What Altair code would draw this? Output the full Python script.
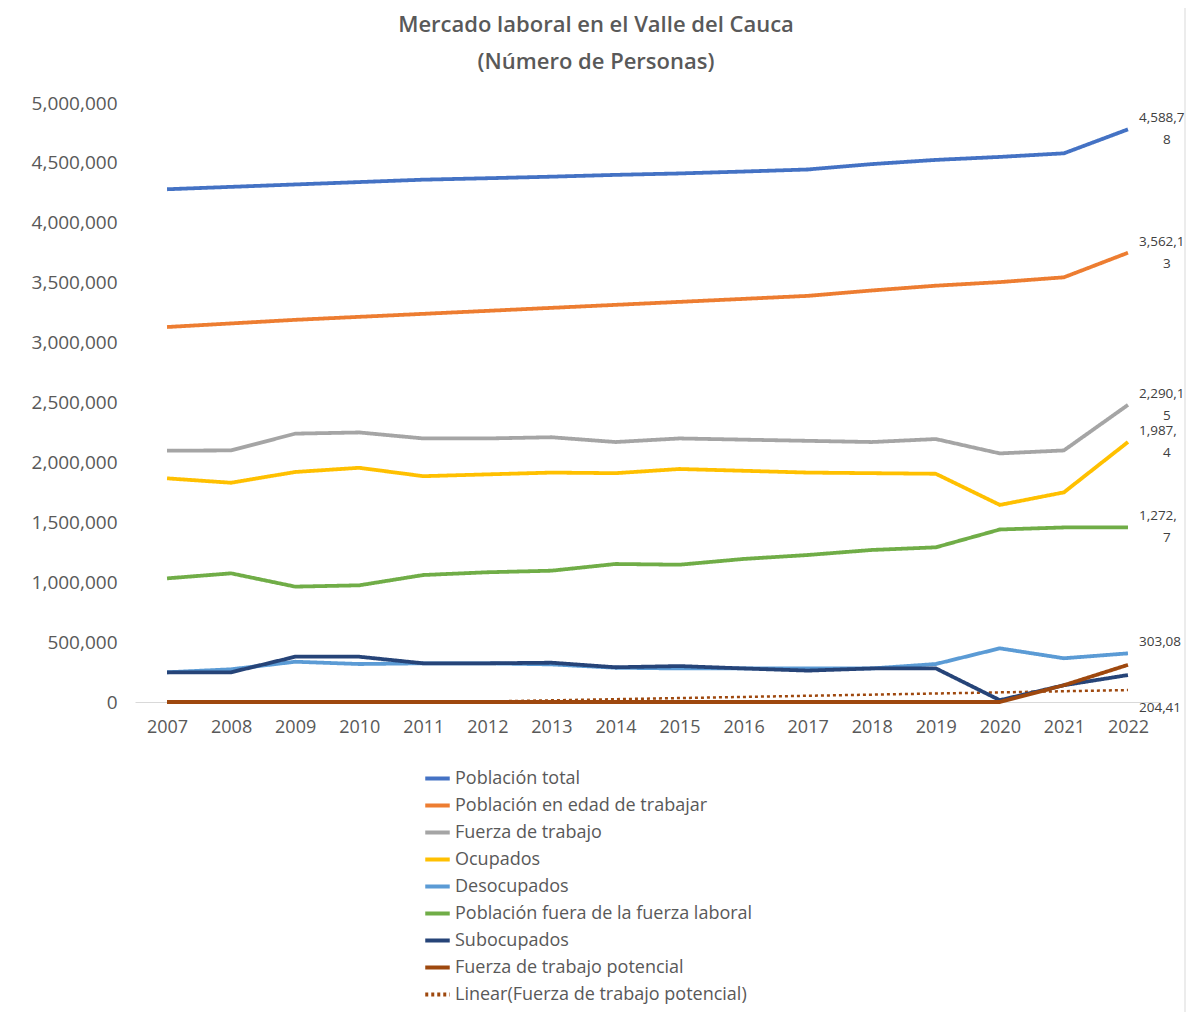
import altair as alt
import pandas as pd

years = [2007, 2008, 2009, 2010, 2011, 2012, 2013, 2014, 2015, 2016, 2017, 2018, 2019, 2020, 2021, 2022]

title_lines = ["Mercado laboral en el Valle del Cauca", "(Número de Personas)"]

series_names = [
    "Población total",
    "Población en edad de trabajar",
    "Fuerza de trabajo",
    "Ocupados",
    "Desocupados",
    "Población fuera de la fuerza laboral",
    "Subocupados",
    "Fuerza de trabajo potencial",
]
trend_name = "Linear(Fuerza de trabajo potencial)"

poblacion_total = [4280000, 4300000, 4320000, 4340000, 4360000, 4372000, 4385000, 4400000,
                   4412000, 4428000, 4445000, 4490000, 4525000, 4550000, 4580000, 4780000]
edad_trabajar = [3130000, 3160000, 3190000, 3215000, 3240000, 3265000, 3290000, 3315000,
                 3340000, 3365000, 3390000, 3435000, 3475000, 3505000, 3545000, 3750000]
fuerza_trabajo = [2098000, 2100000, 2240000, 2250000, 2200000, 2200000, 2210000, 2170000,
                  2200000, 2190000, 2180000, 2170000, 2195000, 2075000, 2100000, 2480000]
ocupados = [1867000, 1830000, 1920000, 1955000, 1885000, 1900000, 1915000, 1910000,
            1945000, 1930000, 1915000, 1910000, 1905000, 1645000, 1750000, 2170000]
desocupados = [248000, 273000, 336000, 317000, 323000, 323000, 314000, 286000,
               280000, 280000, 280000, 280000, 317000, 448000, 365000, 406000]
fuera_fuerza = [1032000, 1074000, 963000, 974000, 1060000, 1083000, 1096000, 1152000,
                1146000, 1194000, 1227000, 1269000, 1291000, 1440000, 1457000, 1457000]
subocupados = [248000, 248000, 378000, 378000, 323000, 323000, 328000, 290000,
               300000, 280000, 262000, 280000, 281000, 15000, 140000, 225000]
potencial = [0, 0, 0, 0, 0, 0, 0, 0, 0, 0, 0, 0, 0, 0, 140000, 310000]

all_series = [poblacion_total, edad_trabajar, fuerza_trabajo, ocupados,
              desocupados, fuera_fuerza, subocupados, potencial]

colors = ["#4472C4", "#ED7D31", "#A5A5A5", "#FFC000", "#5B9BD5", "#70AD47", "#264478", "#9E480E", "#9E480E"]

# data labels at 2022 (visible text as in the reference)
label_series = ["Población total", "Población en edad de trabajar", "Fuerza de trabajo",
                "Ocupados", "Población fuera de la fuerza laboral", "Desocupados"]
label_line1 = ["4,588,7", "3,562,1", "2,290,1", "1,987,", "1,272,", "303,08"]
label_line2 = ["8", "3", "5", "4", "7", ""]
sub_label = "204,41"

rows = []
for name, vals in zip(series_names, all_series):
    for y, v in zip(years, vals):
        rows.append({"year": y, "value": v, "serie": name})
df = pd.DataFrame(rows)

last = {name: vals[-1] for name, vals in zip(series_names, all_series)}
lab_df = pd.DataFrame({
    "year": [years[-1]] * len(label_series),
    "value": [last[s] for s in label_series],
    "l1": label_line1,
    "l2": label_line2,
})
sub_df = pd.DataFrame({"year": [years[-1]], "value": [last["Subocupados"]], "l1": [sub_label]})

domain_all = series_names + [trend_name]
dash_range = [[1, 0]] * len(series_names) + [[3, 3]]

x_enc = alt.X("year:Q", scale=alt.Scale(domain=[2006.5, 2022.5], nice=False, zero=False),
              axis=alt.Axis(values=years, format="d", title=None, grid=False, ticks=False,
                            domainColor="#D9D9D9", domainWidth=1, labelPadding=16,
                            labelFontSize=18, labelColor="#595959", labelFont="Open Sans",
                            labelFlush=False))
y_enc = alt.Y("value:Q", scale=alt.Scale(domain=[0, 5000000], nice=False),
              axis=alt.Axis(values=list(range(0, 5000001, 500000)), format=",d", title=None,
                            grid=False, ticks=False, domain=False, labelPadding=18,
                            labelFontSize=19, labelColor="#595959", labelFont="Open Sans"))
legend_def = dict(title=None, orient="none", legendX=288, legendY=661,
                  direction="vertical", labelFontSize=18,
                  labelFont="Open Sans", labelColor="#595959",
                  symbolType="stroke", symbolSize=600,
                  symbolStrokeWidth=4, rowPadding=3, labelOffset=3,
                  labelLimit=500)
color_enc = alt.Color("serie:N", scale=alt.Scale(domain=domain_all, range=colors),
                      legend=alt.Legend(**legend_def))
dash_enc = alt.StrokeDash("serie:N", scale=alt.Scale(domain=domain_all, range=dash_range),
                          legend=alt.Legend(**legend_def))

base = alt.Chart(df)

trend = base.transform_filter(
    alt.datum.serie == "Fuerza de trabajo potencial"
).transform_regression(
    "year", "value", method="linear"
).transform_calculate(
    serie=f"'{trend_name}'"
).mark_line(strokeWidth=2.5, clip=True).encode(
    x=x_enc, y=y_enc, color=color_enc, strokeDash=dash_enc
)

lines = base.mark_line(strokeWidth=3.8, strokeCap="butt").encode(
    x=x_enc, y=y_enc, color=color_enc, strokeDash=dash_enc,
    order=alt.Order("year:Q")
)

txt_style = dict(font="Open Sans", fontSize=13.5, color="#404040", baseline="middle")
lab1 = alt.Chart(lab_df).mark_text(align="left", dx=11, dy=-11, **txt_style).encode(
    x=alt.X("year:Q"), y=alt.Y("value:Q"), text="l1:N")
lab2 = alt.Chart(lab_df).mark_text(align="center", dx=39, dy=11, **txt_style).encode(
    x=alt.X("year:Q"), y=alt.Y("value:Q"), text="l2:N")
lab3 = alt.Chart(sub_df).mark_text(align="left", dx=11, dy=33, **txt_style).encode(
    x=alt.X("year:Q"), y=alt.Y("value:Q"), text="l1:N")

one_df = pd.DataFrame({"k": [0]})
title_style = dict(font="Open Sans", fontSize=22, fontWeight=600, color="#595959",
                   align="center", baseline="middle")
title1 = alt.Chart(one_df).mark_text(**title_style).encode(
    x=alt.value(461), y=alt.value(-78), text=alt.value(title_lines[0]))
title2 = alt.Chart(one_df).mark_text(**title_style).encode(
    x=alt.value(461), y=alt.value(-41), text=alt.value(title_lines[1]))

# outer chart-area border (top and right edges, as in the reference)
border_right = alt.Chart(one_df).mark_rule(color="#D9D9D9", strokeWidth=1).encode(
    x=alt.value(1050), y=alt.value(-98), y2=alt.value(915))
border_top = alt.Chart(one_df).mark_rule(color="#D9D9D9", strokeWidth=1).encode(
    x=alt.value(-133), x2=alt.value(1050), y=alt.value(-98))

chart = alt.layer(border_right, border_top, title1, title2,
                  trend, lines, lab1, lab2, lab3).properties(
    width=1025,
    height=599,
    background="white",
    autosize=alt.AutoSizeParams(type="none"),
    padding={"left": 127, "top": 95, "right": 26, "bottom": 310},
).configure_view(strokeWidth=0, stroke="transparent")

chart.save("out.html", embed_options={"renderer": "svg", "actions": False})
